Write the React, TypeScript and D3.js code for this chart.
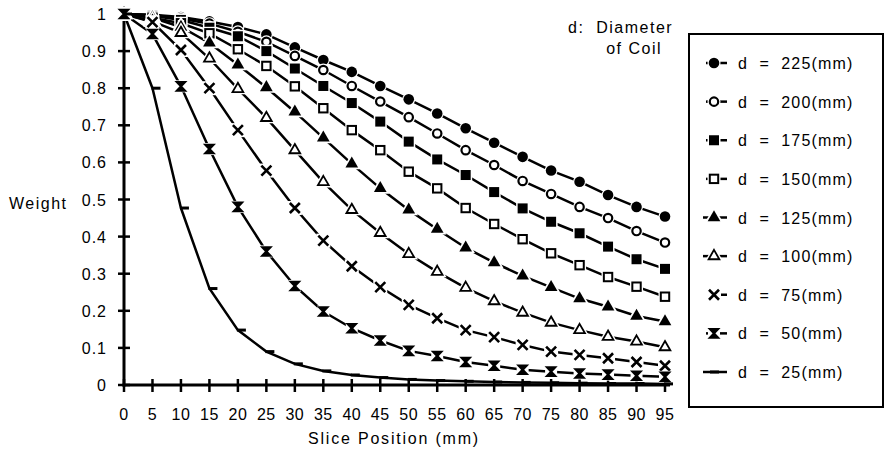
import React from 'react';
import * as d3 from 'd3';

// slice positions (mm)
const positions = [0, 5, 10, 15, 20, 25, 30, 35, 40, 45, 50, 55, 60, 65, 70, 75, 80, 85, 90, 95];
const yTicks = [0, 0.1, 0.2, 0.3, 0.4, 0.5, 0.6, 0.7, 0.8, 0.9, 1];

// weight per coil diameter
const d225 = [1, 0.998, 0.992, 0.98, 0.965, 0.945, 0.91, 0.876, 0.844, 0.806, 0.77, 0.732, 0.692, 0.653, 0.615, 0.578, 0.548, 0.512, 0.48, 0.454];
const d200 = [1, 0.997, 0.988, 0.974, 0.952, 0.925, 0.887, 0.849, 0.806, 0.764, 0.722, 0.678, 0.633, 0.593, 0.55, 0.515, 0.48, 0.45, 0.415, 0.384];
const d175 = [1, 0.995, 0.984, 0.963, 0.94, 0.9, 0.853, 0.806, 0.76, 0.71, 0.656, 0.608, 0.566, 0.52, 0.476, 0.44, 0.409, 0.373, 0.339, 0.313];
const d150 = [1, 0.99, 0.975, 0.948, 0.905, 0.86, 0.805, 0.746, 0.687, 0.633, 0.575, 0.53, 0.477, 0.434, 0.393, 0.355, 0.323, 0.291, 0.265, 0.238];
const d125 = [1, 0.99, 0.965, 0.922, 0.863, 0.802, 0.736, 0.666, 0.596, 0.53, 0.472, 0.42, 0.37, 0.33, 0.294, 0.263, 0.233, 0.211, 0.186, 0.171];
const d100 = [1, 0.98, 0.949, 0.88, 0.798, 0.72, 0.633, 0.547, 0.472, 0.41, 0.353, 0.305, 0.262, 0.226, 0.195, 0.168, 0.148, 0.13, 0.117, 0.102];
const d75 = [1, 0.978, 0.903, 0.8, 0.687, 0.578, 0.477, 0.389, 0.32, 0.264, 0.216, 0.18, 0.148, 0.129, 0.108, 0.09, 0.081, 0.072, 0.062, 0.052];
const d50 = [1, 0.946, 0.805, 0.636, 0.48, 0.36, 0.267, 0.198, 0.153, 0.12, 0.092, 0.078, 0.062, 0.052, 0.041, 0.036, 0.031, 0.028, 0.025, 0.022];
const d25 = [1, 0.8, 0.477, 0.26, 0.148, 0.09, 0.057, 0.038, 0.027, 0.02, 0.015, 0.012, 0.01, 0.008, 0.007, 0.006, 0.005, 0.004, 0.004, 0.003];

const series = [
  { label: 'd  =  225(mm)', values: d225, marker: 'circleFill' },
  { label: 'd  =  200(mm)', values: d200, marker: 'circleOpen' },
  { label: 'd  =  175(mm)', values: d175, marker: 'squareFill' },
  { label: 'd  =  150(mm)', values: d150, marker: 'squareOpen' },
  { label: 'd  =  125(mm)', values: d125, marker: 'triFill' },
  { label: 'd  =  100(mm)', values: d100, marker: 'triOpen' },
  { label: 'd  =  75(mm)', values: d75, marker: 'x' },
  { label: 'd  =  50(mm)', values: d50, marker: 'hourglass' },
  { label: 'd  =  25(mm)', values: d25, marker: 'dash' },
];

const font = '"Liberation Sans", Arial, Helvetica, sans-serif';

function Marker({ kind, x, y }: { kind: string; x: number; y: number }) {
  const t = `translate(${x},${y})`;
  let shape: React.ReactNode = null;
  let halo: React.ReactNode = null;
  if (kind === 'circleFill' || kind === 'circleOpen') {
    const open = kind === 'circleOpen';
    halo = <circle r={6.5} fill="#fff" />;
    shape = <circle r={open ? 4.2 : 5.3} fill={open ? '#fff' : '#000'} stroke="#000" strokeWidth={open ? 2.2 : 0} />;
  } else if (kind === 'squareFill' || kind === 'squareOpen') {
    const open = kind === 'squareOpen';
    halo = <rect x={-6.5} y={-6.5} width={13} height={13} fill="#fff" />;
    shape = open
      ? <rect x={-4.2} y={-4.2} width={8.4} height={8.4} fill="#fff" stroke="#000" strokeWidth={2} />
      : <rect x={-5} y={-5} width={10} height={10} fill="#000" />;
  } else if (kind === 'triFill' || kind === 'triOpen') {
    const open = kind === 'triOpen';
    const p = d3.symbol(d3.symbolTriangle, open ? 50 : 70)()!;
    halo = <path d={d3.symbol(d3.symbolTriangle, 150)()!} fill="#fff" />;
    shape = <path d={p} fill={open ? '#fff' : '#000'} stroke="#000" strokeWidth={open ? 1.8 : 0} />;
  } else if (kind === 'x') {
    halo = <rect x={-7} y={-7} width={14} height={14} fill="#fff" />;
    shape = <path d="M-5,-5L5,5M5,-5L-5,5" stroke="#000" strokeWidth={2.6} fill="none" />;
  } else if (kind === 'hourglass') {
    halo = <rect x={-6} y={-6} width={12} height={12} fill="#fff" />;
    shape = <path d="M-4,-4.2H4L-4,4.2H4Z" stroke="#000" strokeWidth={2.2} fill="#000" />;
  } else if (kind === 'dash') {
    shape = <path d="M-1,0H8" stroke="#000" strokeWidth={3} />;
  }
  return (
    <g transform={t}>
      {halo}
      {shape}
    </g>
  );
}

export default function App() {
  const x = d3.scaleLinear().domain([0, 95]).range([124, 665]);
  const y = d3.scaleLinear().domain([0, 1]).range([385, 14]);
  const line = d3.line<number>().x((_, i) => x(positions[i])).y(d => y(d));

  const legendY = d3.scaleLinear().domain([0, 8]).range([63, 372]);

  return (
    <svg width={885} height={458} style={{ position: 'absolute', left: 0, top: 0, background: '#fff' }} fontFamily={font}>
      {/* axes */}
      <line x1={124} x2={124} y1={12} y2={386.5} stroke="#000" strokeWidth={3} />
      <line x1={122.5} x2={670} y1={385} y2={385} stroke="#000" strokeWidth={3} />
      {yTicks.map(t => (
        <g key={t}>
          <line x1={118} x2={130} y1={y(t)} y2={y(t)} stroke="#000" strokeWidth={2.5} />
          <text x={107} y={y(t) + 6} textAnchor="end" fontSize={16} letterSpacing={1}>{t}</text>
        </g>
      ))}
      {positions.map(p => (
        <g key={p}>
          <line x1={x(p)} x2={x(p)} y1={379} y2={392} stroke="#000" strokeWidth={2.5} />
          <text x={x(p)} y={420} textAnchor="middle" fontSize={16} letterSpacing={0.5}>{p}</text>
        </g>
      ))}
      <text x={9} y={209} fontSize={16} letterSpacing={1.5}>Weight</text>
      <text x={394} y={444} textAnchor="middle" fontSize={16} letterSpacing={1.8}>Slice Position (mm)</text>

      {/* lines */}
      {series.map(s => (
        <path key={s.label} d={line(s.values)!} fill="none" stroke="#000" strokeWidth={2.5} />
      ))}
      {/* markers */}
      {series.map(s => (
        <g key={s.label}>
          {s.values.map((v, i) => (
            <Marker key={i} kind={s.marker} x={x(positions[i])} y={y(v)} />
          ))}
        </g>
      ))}

      {/* legend */}
      <text x={568} y={33} fontSize={16} letterSpacing={1.5} style={{ whiteSpace: 'pre' }}>d:  Diameter</text>
      <text x={662} y={54} textAnchor="end" fontSize={16} letterSpacing={1.5}>of Coil</text>
      <rect x={689} y={34} width={194} height={373} fill="none" stroke="#000" strokeWidth={2} />
      {series.map((s, i) => {
        const ly = legendY(i);
        const x1 = s.marker === 'x' ? 714 : s.marker.startsWith('tri') || s.marker === 'dash' ? 703 : 706;
        return (
          <g key={s.label}>
            <line x1={x1} x2={727} y1={ly} y2={ly} stroke="#000" strokeWidth={2.5} />
            <Marker kind={s.marker} x={s.marker === 'dash' ? 711 : 714} y={ly} />
            <text x={738} y={ly + 6} fontSize={16} letterSpacing={1.2} style={{ whiteSpace: 'pre' }}>{s.label}</text>
          </g>
        );
      })}
    </svg>
  );
}
